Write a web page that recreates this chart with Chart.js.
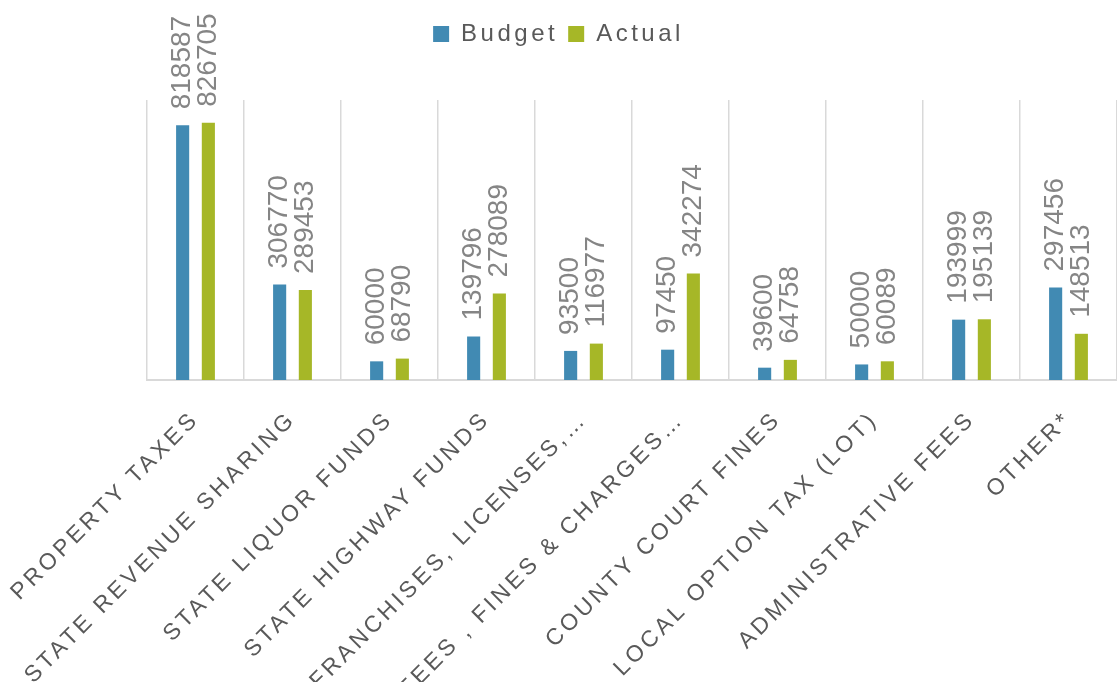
<!DOCTYPE html>
<html>
<head>
<meta charset="utf-8">
<script src="https://cdn.jsdelivr.net/npm/chart.js@4/dist/chart.umd.min.js"></script>
<style>
html,body{margin:0;padding:0;background:#fff;}
#wrap{width:1117px;height:682px;position:relative;}
</style>
</head>
<body>
<div id="wrap"><canvas id="c" width="1117" height="682"></canvas></div>
<script>
const categories = ["PROPERTY TAXES","STATE REVENUE SHARING","STATE LIQUOR FUNDS","STATE HIGHWAY FUNDS","FRANCHISES, LICENSES,…","FEES , FINES & CHARGES…","COUNTY COURT FINES","LOCAL OPTION TAX (LOT)","ADMINISTRATIVE FEES","OTHER*"];
const budget = [818587,306770,60000,139796,93500,97450,39600,50000,193999,297456];
const actual = [826705,289453,68790,278089,116977,342274,64758,60089,195139,148513];
const seriesNames = ["Budget","Actual"];

const spacing = {
  id:'spacing',
  beforeLayout(chart){
    chart.ctx.letterSpacing = '3.5px';
    const lg = chart.legend;
    if (lg && !lg._patched){
      const orig = lg.fit;
      lg.fit = function(){ orig.call(this); this.height += 44; };
      lg._patched = true;
    }
  },
  beforeDraw(chart){ chart.ctx.letterSpacing = '3.5px'; },
  beforeDatasetsDraw(chart){ chart.ctx.letterSpacing = '0px'; }
};

const valueLabels = {
  id:'valueLabels',
  afterDatasetsDraw(chart){
    const ctx = chart.ctx;
    chart.data.datasets.forEach((ds, di) => {
      const meta = chart.getDatasetMeta(di);
      meta.data.forEach((bar, i) => {
        ctx.save();
        ctx.letterSpacing = '0px';
        ctx.translate(bar.x, bar.y - 16);
        ctx.rotate(-Math.PI/2);
        ctx.font = '28px "Liberation Sans", Arial, sans-serif';
        ctx.fillStyle = '#858585';
        ctx.textAlign = 'left';
        ctx.textBaseline = 'middle';
        ctx.fillText(String(ds.data[i]), 0, 0);
        ctx.restore();
      });
    });
  }
};

new Chart(document.getElementById('c'), {
  type:'bar',
  data:{
    labels: categories,
    datasets:[
      {label: seriesNames[0], data: budget, backgroundColor:'#418AB3', categoryPercentage:0.53, barPercentage:0.51},
      {label: seriesNames[1], data: actual, backgroundColor:'#A6B727', categoryPercentage:0.53, barPercentage:0.51}
    ]
  },
  options:{
    responsive:false,
    animation:false,
    devicePixelRatio:1,
    layout:{padding:{top:12,left:0,right:0,bottom:0}},
    plugins:{
      legend:{
        position:'top',
        labels:{
          boxWidth:16, boxHeight:16, padding:10,
          color:'#595959',
          font:{family:'"Liberation Sans", Arial, sans-serif', size:24}
        }
      },
      tooltip:{enabled:false}
    },
    scales:{
      x:{
        grid:{display:true, offset:true, color:'#d9d9d9', lineWidth:1.5, drawTicks:false},
        border:{display:true, color:'#d9d9d9', width:2},
        ticks:{
          autoSkip:false, maxRotation:45, minRotation:45, padding:26,
          color:'#595959',
          font:{family:'"Liberation Sans", Arial, sans-serif', size:23}
        },
        afterFit(scale){ scale.height = 302; scale.paddingLeft = 147; scale.paddingRight = 0; }
      },
      y:{display:false, min:0, max:900000}
    }
  },
  plugins:[spacing, valueLabels]
});
</script>
</body>
</html>
